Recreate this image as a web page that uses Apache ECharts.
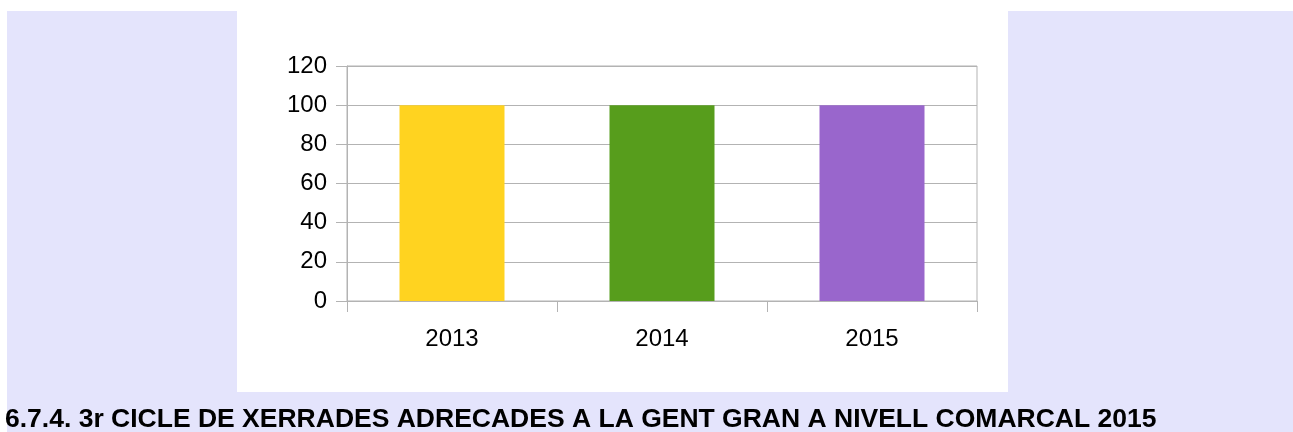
<!DOCTYPE html>
<html>
<head>
<meta charset="utf-8">
<script src="https://cdn.jsdelivr.net/npm/echarts@6/dist/echarts.min.js"></script>
<style>
  html, body { margin: 0; padding: 0; background: #fff; }
  #chart { width: 1293px; height: 432px; }
</style>
</head>
<body>
<div id="chart"></div>
<script>
var years = ['2013', '2014', '2015'];
var values = [100, 100, 100];
var barColors = ['#ffd320', '#579d1c', '#9966cc'];
var titleText = '6.7.4. 3r CICLE DE XERRADES ADRECADES A LA GENT GRAN A NIVELL COMARCAL 2015';

var gridColor = '#b3b3b3';
var font = '"Liberation Sans", Arial, sans-serif';

var data = [];
for (var i = 0; i < values.length; i++) {
    data.push({ value: values[i], itemStyle: { color: barColors[i] } });
}

var chart = echarts.init(document.getElementById('chart'));
var option = {
    animation: false,
    backgroundColor: '#fff',
    graphic: [
        { type: 'rect', z: -10, shape: { x: 7, y: 11, width: 1286, height: 421 }, style: { fill: '#e4e4fc' } },
        { type: 'rect', z: -9, shape: { x: 237, y: 11, width: 771, height: 381 }, style: { fill: '#fff' } }
    ],
    title: {
        text: titleText,
        left: 5,
        top: 406,
        padding: 0,
        textStyle: { fontFamily: font, fontWeight: 'bold', fontSize: 26.5, color: '#000' }
    },
    grid: {
        left: 347, top: 66, right: 316, bottom: 131,
        show: true, borderColor: gridColor, borderWidth: 1,
        backgroundColor: 'transparent'
    },
    xAxis: {
        type: 'category',
        data: years,
        axisLine: { lineStyle: { color: gridColor } },
        axisTick: { show: true, length: 11, lineStyle: { color: gridColor } },
        axisLabel: { margin: 26, fontFamily: font, fontSize: 24, color: '#000' }
    },
    yAxis: {
        type: 'value',
        min: 0, max: 120, interval: 20,
        axisLine: { show: true, lineStyle: { color: gridColor } },
        axisTick: { show: true, length: 11, lineStyle: { color: gridColor } },
        splitLine: { lineStyle: { color: gridColor } },
        axisLabel: { margin: 20, fontFamily: font, fontSize: 24, color: '#000' }
    },
    series: [{
        type: 'bar',
        barWidth: '50%',
        data: data
    }]
};
chart.setOption(option);
</script>
</body>
</html>
